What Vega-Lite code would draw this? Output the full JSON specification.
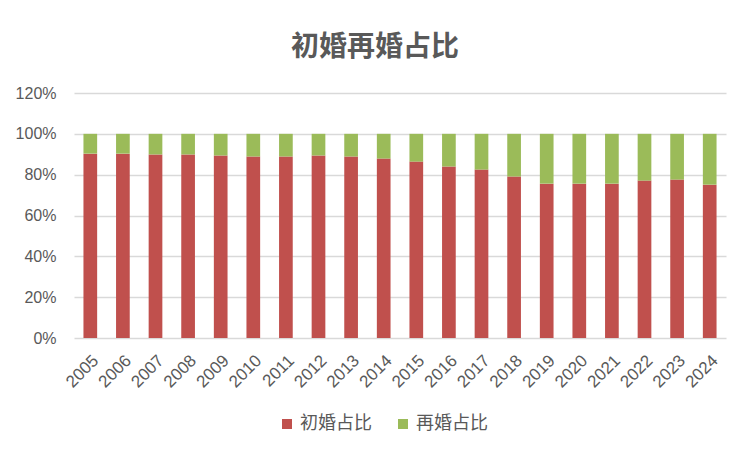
{
  "$schema": "https://vega.github.io/schema/vega-lite/v6.json",
  "autosize": {"type": "none"},
  "width": 652,
  "height": 245,
  "padding": {"left": 74, "top": 93, "right": 25, "bottom": 118},
  "background": "white",
  "title": {
    "text": "初婚再婚占比",
    "fontSize": 28,
    "font": "Noto Sans CJK SC",
    "fontWeight": "bold",
    "color": "#595959",
    "anchor": "middle",
    "baseline": "bottom",
    "dx": -25,
    "offset": -5
  },
  "data": {
    "values": [
      {"year": "2005", "type": "初婚占比", "share": 0.903}, {"year": "2005", "type": "再婚占比", "share": 0.097},
      {"year": "2006", "type": "初婚占比", "share": 0.903}, {"year": "2006", "type": "再婚占比", "share": 0.097},
      {"year": "2007", "type": "初婚占比", "share": 0.899}, {"year": "2007", "type": "再婚占比", "share": 0.101},
      {"year": "2008", "type": "初婚占比", "share": 0.899}, {"year": "2008", "type": "再婚占比", "share": 0.101},
      {"year": "2009", "type": "初婚占比", "share": 0.894}, {"year": "2009", "type": "再婚占比", "share": 0.106},
      {"year": "2010", "type": "初婚占比", "share": 0.889}, {"year": "2010", "type": "再婚占比", "share": 0.111},
      {"year": "2011", "type": "初婚占比", "share": 0.889}, {"year": "2011", "type": "再婚占比", "share": 0.111},
      {"year": "2012", "type": "初婚占比", "share": 0.894}, {"year": "2012", "type": "再婚占比", "share": 0.106},
      {"year": "2013", "type": "初婚占比", "share": 0.889}, {"year": "2013", "type": "再婚占比", "share": 0.111},
      {"year": "2014", "type": "初婚占比", "share": 0.879}, {"year": "2014", "type": "再婚占比", "share": 0.121},
      {"year": "2015", "type": "初婚占比", "share": 0.864}, {"year": "2015", "type": "再婚占比", "share": 0.136},
      {"year": "2016", "type": "初婚占比", "share": 0.840}, {"year": "2016", "type": "再婚占比", "share": 0.160},
      {"year": "2017", "type": "初婚占比", "share": 0.825}, {"year": "2017", "type": "再婚占比", "share": 0.175},
      {"year": "2018", "type": "初婚占比", "share": 0.791}, {"year": "2018", "type": "再婚占比", "share": 0.209},
      {"year": "2019", "type": "初婚占比", "share": 0.756}, {"year": "2019", "type": "再婚占比", "share": 0.244},
      {"year": "2020", "type": "初婚占比", "share": 0.756}, {"year": "2020", "type": "再婚占比", "share": 0.244},
      {"year": "2021", "type": "初婚占比", "share": 0.756}, {"year": "2021", "type": "再婚占比", "share": 0.244},
      {"year": "2022", "type": "初婚占比", "share": 0.771}, {"year": "2022", "type": "再婚占比", "share": 0.229},
      {"year": "2023", "type": "初婚占比", "share": 0.776}, {"year": "2023", "type": "再婚占比", "share": 0.224},
      {"year": "2024", "type": "初婚占比", "share": 0.751}, {"year": "2024", "type": "再婚占比", "share": 0.249}
    ]
  },
  "mark": {"type": "bar"},
  "encoding": {
    "x": {
      "field": "year",
      "type": "ordinal",
      "scale": {"paddingInner": 0.58, "paddingOuter": 0.29},
      "axis": {
        "title": null,
        "labelAngle": -45,
        "labelFont": "Liberation Sans",
        "labelFontSize": 17,
        "labelColor": "#595959",
        "ticks": false,
        "domain": false,
        "labelPadding": 14
      }
    },
    "y": {
      "field": "share",
      "type": "quantitative",
      "stack": "zero",
      "scale": {"domain": [0, 1.2], "nice": false},
      "axis": {
        "title": null,
        "format": ".0%",
        "values": [0, 0.2, 0.4, 0.6, 0.8, 1.0, 1.2],
        "labelFont": "Liberation Sans",
        "labelFontSize": 16,
        "labelColor": "#595959",
        "ticks": false,
        "domain": false,
        "labelPadding": 18,
        "gridColor": "#D9D9D9",
        "gridWidth": 1.6
      }
    },
    "color": {
      "field": "type",
      "type": "nominal",
      "scale": {"domain": ["初婚占比", "再婚占比"], "range": ["#C0504D", "#9BBB59"]},
      "legend": {
        "title": null,
        "orient": "none",
        "direction": "horizontal",
        "legendX": 204,
        "legendY": 322,
        "symbolType": "square",
        "symbolSize": 100,
        "symbolStrokeWidth": 0,
        "labelFont": "Noto Sans CJK SC",
        "labelFontSize": 18,
        "labelColor": "#595959",
        "labelOffset": 4,
        "columnPadding": 22,
        "padding": 0
      }
    },
    "order": {"field": "type", "sort": "descending"}
  },
  "config": {
    "view": {"stroke": null}
  }
}
